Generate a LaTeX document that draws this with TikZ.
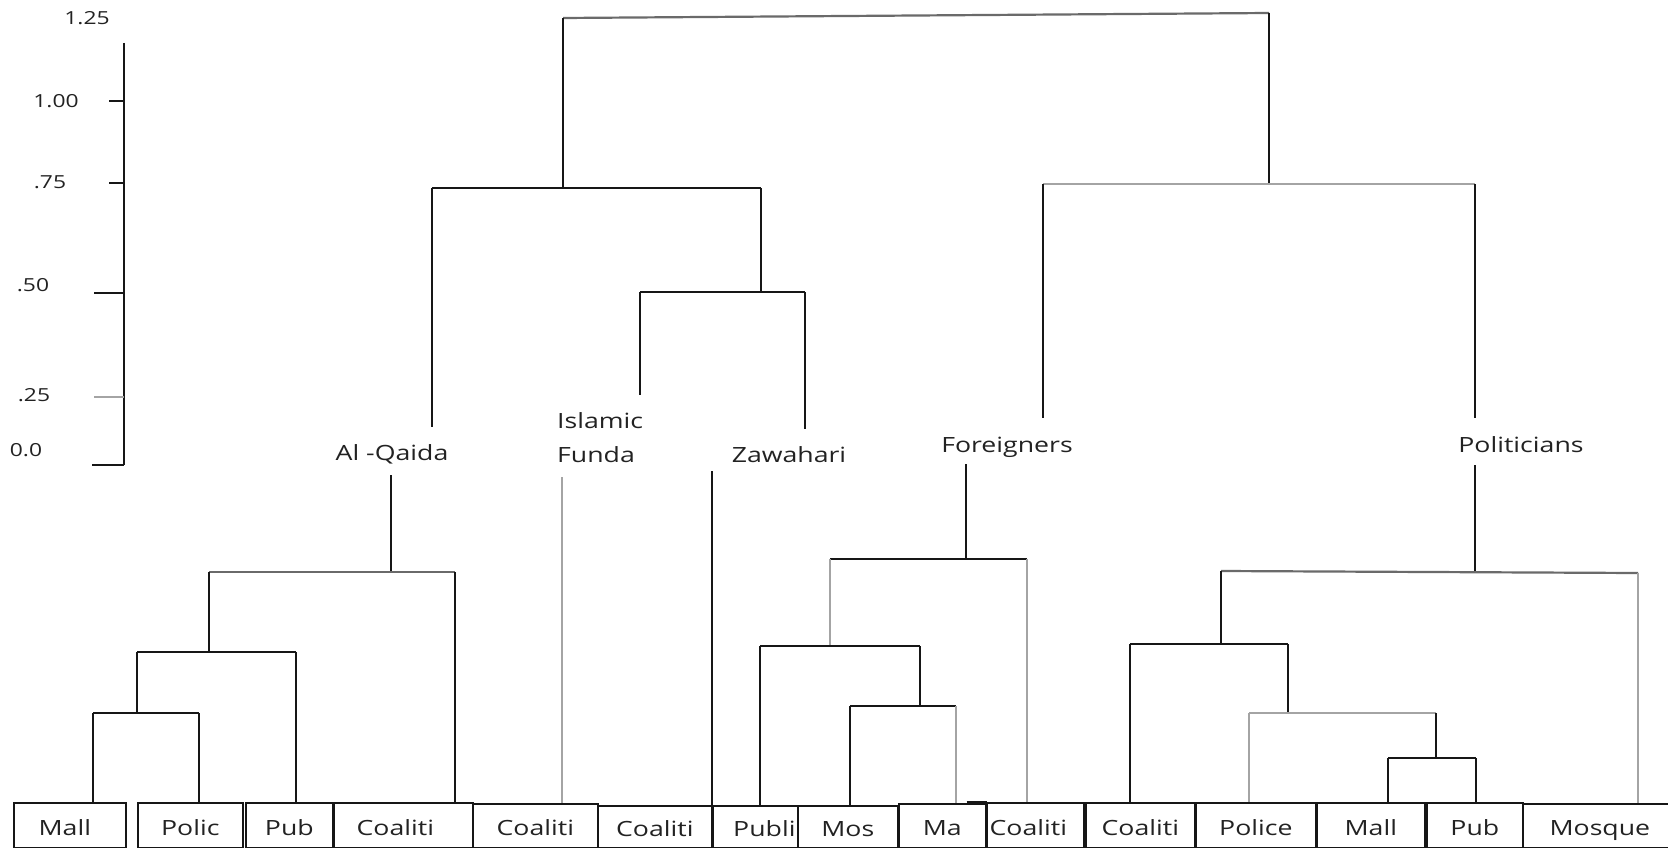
\documentclass[tikz,border=0pt]{standalone}
\usepackage{fontspec}
\setmainfont{Open Sans}
\usepackage{graphicx}
\newcommand{\wtxt}[1]{\scalebox{1.27}[1]{#1}}
\definecolor{ink}{HTML}{161616}
\definecolor{lgray}{HTML}{A4A4A4}
\definecolor{mgray}{HTML}{6A6A6A}
\definecolor{txt}{HTML}{222222}
\tikzset{
  blk/.style={draw=ink, line width=2pt},
  gry/.style={draw=lgray, line width=2.4pt},
  mix/.style={draw=mgray, line width=2.2pt},
  leaf/.style={draw=ink, line width=1.7pt, anchor=north west, inner sep=0pt,
    text height=22pt, text depth=2pt, font=\fontsize{21}{25}\selectfont, text=txt},
  lab/.style={anchor=base, inner sep=0pt, font=\fontsize{21}{25}\selectfont, text=txt},
  axl/.style={anchor=base, inner sep=0pt, font=\fontsize{18}{22}\selectfont, text=txt},
}
\begin{document}
\begin{tikzpicture}[x=1pt,y=-1pt]
\useasboundingbox (0,0) rectangle (1668,848);

% ---------- scale axis ----------
\coordinate (axtop) at (124,43);
\coordinate (axbot) at (124,465);
\draw[blk] (axtop) -- (axbot);
\draw[blk] (109,101) -- (124,101);
\draw[blk] (109,183) -- (124,183);
\draw[blk] (94,293) -- (124,293);
\draw[gry] (94,397) -- (124,397);
\draw[blk] (92,465) -- (124,465);
\node[axl] (t125) at (87,24.5) {\wtxt{1.25}};
\node[axl] (t100) at (56,107.5) {\wtxt{1.00}};
\node[axl] (t075) at (50,188.5) {\wtxt{.75}};
\node[axl] (t050) at (33,291.5) {\wtxt{.50}};
\node[axl] (t025) at (34,401.5) {\wtxt{.25}};
\node[axl] (t000) at (26,456.5) {\wtxt{0.0}};

% ---------- cluster labels ----------
\node[lab] (AQ) at (392,460.5) {\wtxt{Al -Qaida}};
\node[lab, anchor=base west] (IF1) at (557,428.5) {\wtxt{Islamic}};
\node[lab, anchor=base west] (IF2) at (557,462.5) {\wtxt{Funda}};
\node[lab] (ZW) at (789,462.5) {\wtxt{Zawahari}};
\node[lab] (FR) at (1007,452.5) {\wtxt{Foreigners}};
\node[lab] (PL) at (1521,452.5) {\wtxt{Politicians}};

% ---------- leaves ----------
\node[leaf, minimum width=112pt, minimum height=45pt] (L1) at (13,802) {\hspace*{-10pt}\wtxt{Mall}};
\node[leaf, minimum width=105pt, minimum height=45pt] (L2) at (137,802) {\wtxt{Polic}};
\node[leaf, minimum width=87pt, minimum height=45pt] (L3) at (245,802) {\wtxt{Pub}};
\node[leaf, minimum width=139pt, minimum height=45pt] (L4) at (333,802) {\hspace*{-16pt}\wtxt{Coaliti}};
\node[leaf, minimum width=125pt, minimum height=44pt] (L5) at (472,803) {\wtxt{Coaliti}};
\node[leaf, minimum width=114pt, minimum height=42pt] (L6) at (597,805) {\wtxt{Coaliti}};
\node[leaf, minimum width=85pt, minimum height=42pt] (L7) at (712,805) {\hspace*{18pt}\wtxt{Publi}};
\node[leaf, minimum width=100pt, minimum height=42pt] (L8) at (797,805) {\wtxt{Mos}};
\node[leaf, minimum width=87pt, minimum height=44pt] (L9) at (898,803) {\wtxt{Ma}};
\node[leaf, minimum width=97pt, minimum height=45pt] (L10) at (986,802) {\hspace*{-14pt}\wtxt{Coaliti}};
\node[leaf, minimum width=109pt, minimum height=45pt] (L11) at (1085,802) {\wtxt{Coaliti}};
\node[leaf, minimum width=120pt, minimum height=45pt] (L12) at (1195,802) {\wtxt{Police}};
\node[leaf, minimum width=108pt, minimum height=45pt] (L13) at (1316,802) {\wtxt{Mall}};
\node[leaf, minimum width=96pt, minimum height=45pt] (L14) at (1426,802) {\wtxt{Pub}};
\node[leaf, minimum width=168pt, minimum height=44pt] (L15) at (1522,803) {\hspace*{-14pt}\wtxt{Mosque}};
\draw[draw=ink, line width=3pt] ([xshift=-20pt,yshift=1pt]L9.north east) -- ([yshift=1pt]L9.north east);

% ---------- upper tree ----------
\coordinate (r0l) at (563,18);
\coordinate (r0r) at (1269,13);
\draw[mix] (r0l) -- (r0r);
\coordinate (c1) at (563,188);
\draw[blk] (r0l) -- (c1);
\coordinate (c1l) at (432,188);
\coordinate (c1r) at (761,188);
\draw[blk] (c1l) -- (c1r);
\coordinate (aqup) at (432,427);
\draw[blk] (c1l) -- (aqup);
\coordinate (c2) at (761,292);
\draw[blk] (c1r) -- (c2);
\coordinate (c2l) at (640,292);
\coordinate (c2r) at (805,292);
\draw[blk] (c2l) -- (c2r);
\coordinate (ifup) at (640,395);
\coordinate (zwup) at (805,429);
\draw[blk] (c2l) -- (ifup);
\draw[blk] (c2r) -- (zwup);
\coordinate (c3) at (1269,184);
\draw[blk] (r0r) -- (c3);
\coordinate (c3l) at (1043,184);
\coordinate (c3r) at (1475,184);
\draw[gry] (c3l) -- (c3r);
\coordinate (frup) at (1043,418);
\coordinate (plup) at (1475,418);
\draw[blk] (c3l) -- (frup);
\draw[blk] (c3r) -- (plup);

% ---------- Al-Qaida subtree ----------
\coordinate (aq0) at (391,475);
\coordinate (aq1) at (391,572);
\draw[blk] (aq0) -- (aq1);
\coordinate (a1l) at (209,572);
\coordinate (a1r) at (455,572);
\draw[mix] (a1l) -- (a1r);
\draw[blk] (a1r) -- (a1r |- L4.north);
\coordinate (a2) at (209,652);
\draw[blk] (a1l) -- (a2);
\coordinate (a2l) at (137,652);
\coordinate (a2r) at (296,652);
\draw[blk] (a2l) -- (a2r);
\draw[blk] (a2r) -- (a2r |- L3.north);
\coordinate (a3) at (137,713);
\draw[blk] (a2l) -- (a3);
\coordinate (a3l) at (93,713);
\coordinate (a3r) at (199,713);
\draw[blk] (a3l) -- (a3r);
\draw[blk] (a3l) -- (a3l |- L1.north);
\draw[blk] (a3r) -- (a3r |- L2.north);

% ---------- Islamic Funda / Zawahari ----------
\coordinate (if0) at (562,477);
\draw[gry] (if0) -- (if0 |- L5.north);
\coordinate (zw0) at (712,471);
\draw[blk] (zw0) -- (zw0 |- L7.north);

% ---------- Foreigners subtree ----------
\coordinate (fr0) at (966,464);
\coordinate (fr1) at (966,559);
\draw[blk] (fr0) -- (fr1);
\coordinate (f1l) at (830,559);
\coordinate (f1r) at (1027,559);
\draw[blk] (f1l) -- (f1r);
\draw[gry] (f1r) -- (f1r |- L10.north);
\coordinate (f2) at (830,646);
\draw[gry] (f1l) -- (f2);
\coordinate (f2l) at (760,646);
\coordinate (f2r) at (920,646);
\draw[blk] (f2l) -- (f2r);
\draw[blk] (f2l) -- (f2l |- L7.north);
\coordinate (f3) at (920,706);
\draw[blk] (f2r) -- (f3);
\coordinate (f3l) at (850,706);
\coordinate (f3r) at (956,706);
\draw[blk] (f3l) -- (f3r);
\draw[blk] (f3l) -- (f3l |- L8.north);
\draw[gry] (f3r) -- (f3r |- L9.north);

% ---------- Politicians subtree ----------
\coordinate (pl0) at (1475,465);
\coordinate (pl1) at (1475,572);
\draw[blk] (pl0) -- (pl1);
\coordinate (p1l) at (1221,571);
\coordinate (p1r) at (1638,573);
\draw[mix] (p1l) -- (p1r);
\draw[gry] (p1r) -- (p1r |- L15.north);
\coordinate (p2) at (1221,644);
\draw[blk] (p1l) -- (p2);
\coordinate (p2l) at (1130,644);
\coordinate (p2r) at (1288,644);
\draw[blk] (p2l) -- (p2r);
\draw[blk] (p2l) -- (p2l |- L11.north);
\coordinate (p3) at (1288,713);
\draw[blk] (p2r) -- (p3);
\coordinate (p3l) at (1249,713);
\coordinate (p3r) at (1436,713);
\draw[gry] (p3l) -- (p3r);
\draw[gry] (p3l) -- (p3l |- L12.north);
\coordinate (p4) at (1436,758);
\draw[blk] (p3r) -- (p4);
\coordinate (p4l) at (1388,758);
\coordinate (p4r) at (1476,758);
\draw[blk] (p4l) -- (p4r);
\draw[blk] (p4l) -- (p4l |- L13.north);
\draw[blk] (p4r) -- (p4r |- L14.north);
\end{tikzpicture}
\end{document}
